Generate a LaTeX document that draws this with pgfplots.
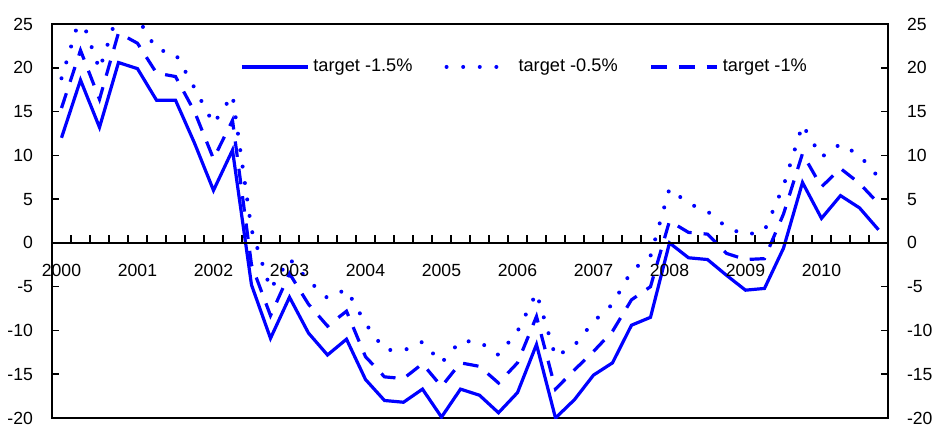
\documentclass[border=0pt]{standalone}
\usepackage{fontspec}
\setmainfont{Liberation Sans}
\usepackage{pgfplots}
\pgfplotsset{compat=1.18}
\usepackage{pgfplotstable}

\pgfplotstableread{
x s p d
0 12.0 18.8 15.4
1 18.6 26.0 22.0
2 13.2 19.8 16.4
3 20.6 26.5 24.0
4 19.9 25.7 22.8
5 16.3 22.1 19.4
6 16.3 21.6 19.0
7 11.4 17.7 15.0
8 6.0 13.6 9.6
9 10.6 16.9 14.0
10 -4.8 1.5 -2.5
11 -10.9 -5.3 -8.3
12 -6.2 -1.8 -3.5
13 -10.3 -4.3 -7.0
14 -12.8 -6.3 -9.5
15 -11.0 -5.3 -7.8
16 -15.6 -9.2 -13.0
17 -18.0 -12.2 -15.3
18 -18.2 -12.3 -15.5
19 -16.7 -11.3 -13.8
20 -19.9 -13.7 -16.4
21 -16.7 -11.2 -13.7
22 -17.4 -11.3 -14.1
23 -19.4 -12.8 -16.0
24 -17.1 -10.1 -13.7
25 -11.6 -5.7 -8.4
26 -20.0 -13.0 -16.7
27 -17.9 -11.7 -14.5
28 -15.1 -9.0 -12.4
29 -13.7 -7.0 -10.1
30 -9.4 -3.2 -6.5
31 -8.5 -1.5 -5.0
32 0.0 6.2 2.5
33 -1.7 4.5 1.2
34 -1.9 3.6 1.0
35 -3.7 1.8 -1.2
36 -5.4 0.9 -1.9
37 -5.2 1.4 -1.8
38 -0.6 6.5 3.3
39 6.9 13.5 10.2
40 2.8 9.8 6.4
41 5.4 11.3 8.5
42 4.0 10.0 6.8
43 1.5 7.5 4.5
}\datatable

\begin{document}
\begin{tikzpicture}[font=\fontsize{8.8}{10}\selectfont]
\useasboundingbox (-26pt,-3.5pt) rectangle (440.5pt,209pt);
\begin{axis}[
  at={(0pt,0pt)}, anchor=south west,
  scale only axis, width=418pt, height=197pt,
  xmin=-0.5, xmax=43.5, ymin=-20, ymax=25,
  xtick=\empty,
  ytick={-20,-15,...,25},
  yticklabel pos=left,
  tick align=inside, major tick length=3.5pt,
  yticklabel style={xshift=-6pt},
  /pgf/number format/assume math mode=true,
  axis line style={line width=0.9pt},
  ytick style={draw=black, line width=0.8pt},
  legend columns=3,
  legend style={draw=none, fill=none, at={(rel axis cs:0.2175,0.891)}, anchor=west,
    font=\fontsize{9.1}{10}\selectfont,
    /tikz/every even column/.append style={column sep=14pt}},
  legend image code/.code={\draw[#1] (0pt,0pt) -- (33pt,0pt);},
]
\foreach \i in {0,...,42} {
  \edef\tmp{\noexpand\draw[black, line width=0.8pt] (axis cs:\i.5,0) -- (axis cs:\i.5,0.85);}
  \tmp
}
\addplot[blue, line width=1.6pt, line join=miter] table[x=x, y=s] {\datatable};
\addlegendentry{target -1.5\%}
\addplot[blue, line width=2pt, line cap=round, dash pattern=on 0pt off 8.3pt] table[x=x, y=p] {\datatable};
\addlegendentry{target -0.5\%}
\addplot[blue, line width=1.6pt, dash pattern=on 7.8pt off 6pt] table[x=x, y=d] {\datatable};
\addlegendentry{target -1\%}
\end{axis}
\begin{axis}[
  at={(0pt,0pt)}, anchor=south west,
  scale only axis, width=418pt, height=197pt,
  xmin=-0.5, xmax=43.5, ymin=-20, ymax=25,
  axis x line*=middle, axis y line*=right,
  axis line style={line width=0.9pt, -},
  xtick={0,4,...,40},
  xticklabels={2000,2001,2002,2003,2004,2005,2006,2007,2008,2009,2010},
  xtick style={draw=none},
  xticklabel style={yshift=-7pt},
  ytick={-20,-15,...,25},
  ytick style={draw=none},
  yticklabel style={xshift=6pt},
  /pgf/number format/assume math mode=true,
]
\end{axis}
\end{tikzpicture}
\end{document}
